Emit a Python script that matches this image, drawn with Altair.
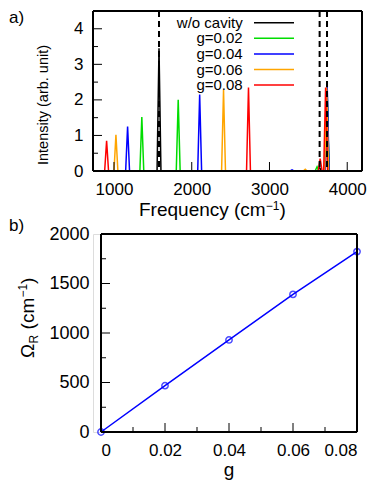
import altair as alt
import pandas as pd

# ---------------- data ----------------
series_names = ["w/o cavity", "g=0.02", "g=0.04", "g=0.06", "g=0.08"]
series_colors = ["#000000", "#00dd00", "#0000ff", "#ffa500", "#ff0000"]

pos_free = [1579, 3645, 3740]
int_free = [3.45, 0.10, 2.40]
pos_g002 = [1358, 1826, 3612, 3740]
int_g002 = [1.52, 2.00, 0.12, 2.45]
pos_g004 = [1175, 2102, 3290, 3742]
int_g004 = [1.25, 2.15, 0.03, 2.42]
pos_g006 = [1025, 2409, 3460, 3735]
int_g006 = [1.02, 2.28, 0.05, 2.35]
pos_g008 = [905, 2730, 3652, 3722]
int_g008 = [0.85, 2.35, 0.35, 2.35]

cavity_modes = [1579, 3645, 3740]

freq_ticks = [1000, 2000, 3000, 4000]
int_ticks = [0, 1, 2, 3, 4]
int_minor = [0.5, 1.5, 2.5, 3.5, 4.5]

g_vals = [0, 0.02, 0.04, 0.06, 0.08]
rabi = [0, 468, 930, 1390, 1822]
g_ticks = [0, 0.02, 0.04, 0.06, 0.08]
g_minor = [0.01, 0.03, 0.05, 0.07]
rabi_ticks = [0, 500, 1000, 1500, 2000]
rabi_minor = [250, 750, 1250, 1750]

FONT = "Liberation Sans"
WA, HA = 269, 160
WB, HB = 264, 198
XB0 = 8  # panel b plot starts 8px right of panel a

# ---------------- helpers ----------------
def txt(s, x, y, size, align="left", baseline="alphabetic", angle=0):
    return alt.Chart(pd.DataFrame({"t": [s]})).mark_text(
        align=align, baseline=baseline, fontSize=size, angle=angle, font=FONT, color="black"
    ).encode(x=alt.value(x), y=alt.value(y), text="t:N")

def hrule(x1, x2, y, w=2):
    return alt.Chart(pd.DataFrame({"a": [0]})).mark_rule(color="black", strokeWidth=w).encode(
        x=alt.value(x1), x2=alt.value(x2), y=alt.value(y))

def vrule(x, y1, y2, w=2):
    return alt.Chart(pd.DataFrame({"a": [0]})).mark_rule(color="black", strokeWidth=w).encode(
        x=alt.value(x), y=alt.value(y1), y2=alt.value(y2))

def mk_axis(values, size, pad, fmt=None, expr=None):
    kw = dict(values=values, title=None, grid=False, ticks=False, tickSize=0, domain=False,
              labelFontSize=size, labelFont=FONT, labelColor="black", labelPadding=pad)
    if fmt:
        kw["format"] = fmt
    if expr:
        kw["labelExpr"] = expr
    return alt.Axis(**kw)

# ---------------- panel a ----------------
xa = alt.Scale(domain=[730, 4190], nice=False, zero=False)
ya = alt.Scale(domain=[0, 4.5], nice=False)
xa_axis = mk_axis(freq_ticks, 17, 10, fmt="d")
ya_axis = mk_axis(int_ticks, 17, 10, fmt="d")

rows = []
HW = 25
for name, ps, hs in [
    (series_names[0], pos_free, int_free),
    (series_names[1], pos_g002, int_g002),
    (series_names[2], pos_g004, int_g004),
    (series_names[3], pos_g006, int_g006),
    (series_names[4], pos_g008, int_g008),
]:
    for i, (p, h) in enumerate(zip(ps, hs)):
        pk = f"{name}-{i}"
        rows.append({"s": name, "pk": pk, "o": 0, "f": p - HW, "I": 0})
        rows.append({"s": name, "pk": pk, "o": 1, "f": p, "I": h})
        rows.append({"s": name, "pk": pk, "o": 2, "f": p + HW, "I": 0})
spec_df = pd.DataFrame(rows)

dash = alt.Chart(pd.DataFrame({"f": cavity_modes})).mark_rule(
    color="black", strokeWidth=2, strokeDash=[6, 4]
).encode(x=alt.X("f:Q", scale=xa, axis=xa_axis), y=alt.value(0), y2=alt.value(HA))

spectra = alt.Chart(spec_df).mark_line(strokeWidth=1.5).encode(
    x=alt.X("f:Q", scale=xa, axis=xa_axis),
    y=alt.Y("I:Q", scale=ya, axis=ya_axis),
    color=alt.Color("s:N", scale=alt.Scale(domain=series_names, range=series_colors), legend=None),
    detail="pk:N",
    order="o:Q",
)

ytick_a = alt.Chart(pd.DataFrame({"I": int_ticks})).mark_rule(color="black", strokeWidth=1).encode(
    y=alt.Y("I:Q", scale=ya, axis=ya_axis), x=alt.value(0), x2=alt.value(9))
ytick_a2 = alt.Chart(pd.DataFrame({"I": int_minor})).mark_rule(color="black", strokeWidth=1).encode(
    y=alt.Y("I:Q", scale=ya, axis=ya_axis), x=alt.value(0), x2=alt.value(5))
xtick_a = alt.Chart(pd.DataFrame({"f": freq_ticks})).mark_rule(color="black", strokeWidth=1).encode(
    x=alt.X("f:Q", scale=xa, axis=xa_axis), y=alt.value(HA), y2=alt.value(HA - 9))

frame_a = [hrule(0, WA, 0), hrule(0, WA, HA), vrule(0, 0, HA), vrule(WA, 0, HA)]

legend_layers = []
for i, (name, col) in enumerate(zip(series_names, series_colors)):
    yy = 11.7 + i * 15.6
    legend_layers.append(txt(name, 149.7, yy, 15, align="right", baseline="middle"))
    legend_layers.append(
        alt.Chart(pd.DataFrame({"a": [0]})).mark_rule(color=col, strokeWidth=1.5).encode(
            x=alt.value(161), x2=alt.value(201), y=alt.value(yy)))

TX = 46
titles_a = [
    txt("a)", -84, 12, 17),
    txt("Intensity (arb. unit)", -49, 94, 14.5, align="center", baseline="middle", angle=270),
    txt("Frequency (cm", TX, HA + 45, 19),
    txt("\u22121", TX + 126.7, HA + 39, 12),
    txt(")", TX + 140.4, HA + 45, 19),
]

panel_a = alt.layer(
    spectra, dash, ytick_a, ytick_a2, xtick_a, *frame_a, *legend_layers, *titles_a
).properties(width=WA, height=HA)

# ---------------- panel b ----------------
xb = alt.Scale(domain=[0, 0.08], range=[XB0, WB], nice=False, zero=False)
yb = alt.Scale(domain=[0, 2000], nice=False)
xb_axis = mk_axis(g_ticks, 17, 10, expr="datum.value == 0 ? '0' : format(datum.value, '.2f')")
yb_axis = mk_axis(rabi_ticks, 18, 4, fmt="d")
rb_df = pd.DataFrame({"g": g_vals, "r": rabi})

line_b = alt.Chart(rb_df).mark_line(color="#0000ff", strokeWidth=1.5).encode(
    x=alt.X("g:Q", scale=xb, axis=xb_axis),
    y=alt.Y("r:Q", scale=yb, axis=yb_axis),
)
pts_b = alt.Chart(rb_df).mark_point(shape="circle", filled=False, size=40, strokeWidth=1.5,
                                    color="#0000ff").encode(
    x=alt.X("g:Q", scale=xb, axis=xb_axis), y=alt.Y("r:Q", scale=yb, axis=yb_axis))

ytick_b = alt.Chart(pd.DataFrame({"r": rabi_ticks})).mark_rule(color="black", strokeWidth=1).encode(
    y=alt.Y("r:Q", scale=yb, axis=yb_axis), x=alt.value(XB0), x2=alt.value(XB0 + 9))
ytick_b2 = alt.Chart(pd.DataFrame({"r": rabi_minor})).mark_rule(color="black", strokeWidth=1).encode(
    y=alt.Y("r:Q", scale=yb, axis=yb_axis), x=alt.value(XB0), x2=alt.value(XB0 + 5))
xtick_b = alt.Chart(pd.DataFrame({"g": g_ticks})).mark_rule(color="black", strokeWidth=1).encode(
    x=alt.X("g:Q", scale=xb, axis=xb_axis), y=alt.value(HB), y2=alt.value(HB - 9))
xtick_b2 = alt.Chart(pd.DataFrame({"g": g_minor})).mark_rule(color="black", strokeWidth=1).encode(
    x=alt.X("g:Q", scale=xb, axis=xb_axis), y=alt.value(HB), y2=alt.value(HB - 5))

frame_b = [hrule(XB0, WB, 0), hrule(XB0, WB, HB), vrule(XB0, 0, HB), vrule(WB, 0, HB)]

OB = 124  # bottom start of rotated Omega title
BX = -59
titles_b = [
    txt("b)", -84, -3, 17),
    txt("\u03a9", BX, OB, 19, angle=270),
    txt("R", BX + 4, OB - 14.6, 12, angle=270),
    txt("(cm", BX, OB - 28.6, 19, angle=270),
    txt("\u22121", BX - 7, OB - 60.4, 12, angle=270),
    txt(")", BX, OB - 74.1, 19, angle=270),
    txt("g", (XB0 + WB) / 2, HB + 44, 19, align="center"),
]

panel_b = alt.layer(
    line_b, pts_b, ytick_b, ytick_b2, xtick_b, xtick_b2, *frame_b, *titles_b
).properties(width=WB, height=HB)

chart = alt.vconcat(panel_a, panel_b, spacing=-5).properties(
    padding=0, background="white"
).configure_view(stroke=None).configure(font=FONT)

chart.save("out.html", embed_options={"renderer": "svg", "actions": False})
